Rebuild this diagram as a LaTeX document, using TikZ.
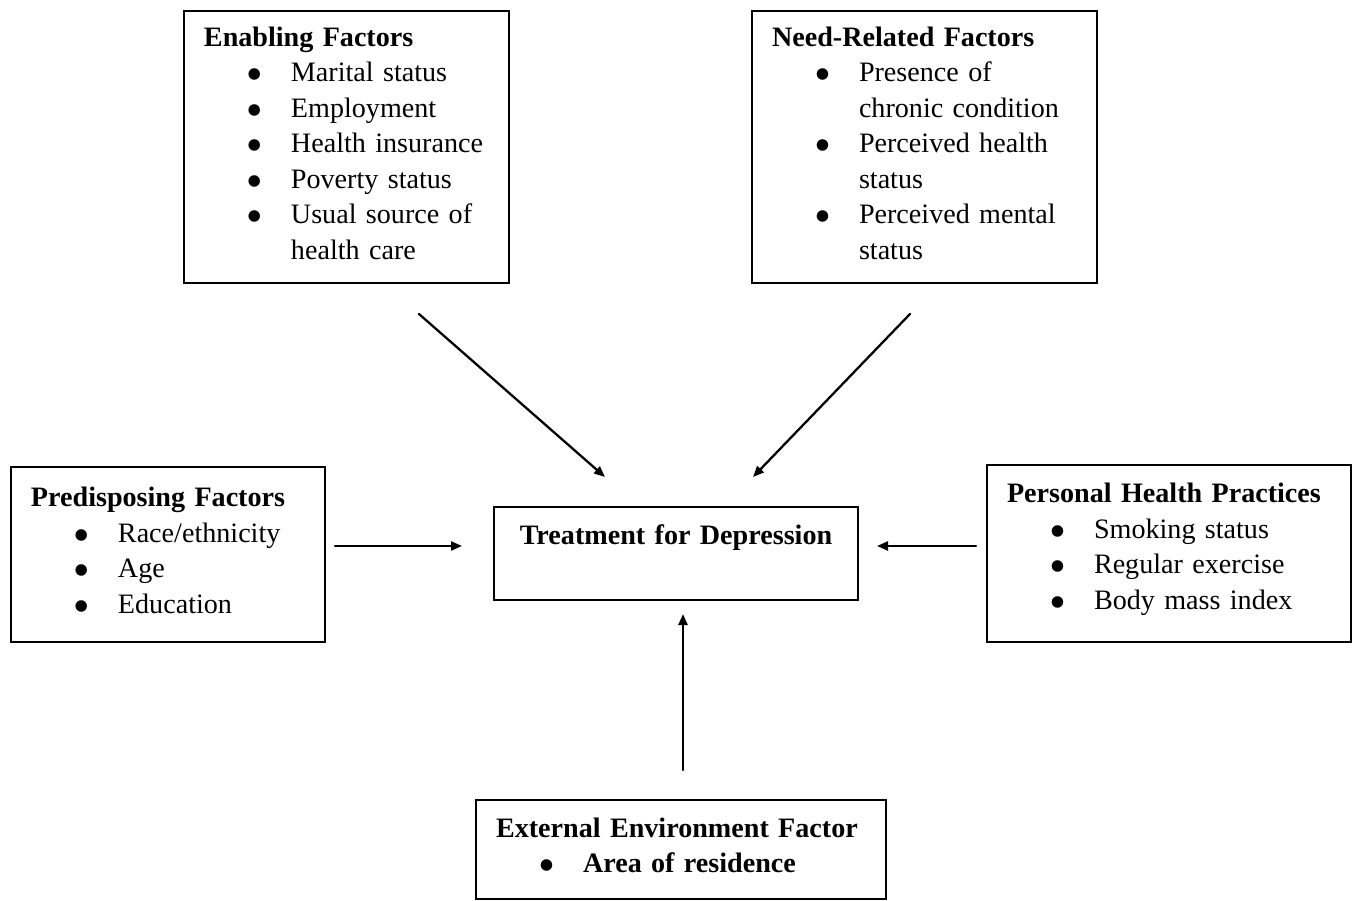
\documentclass[tikz,border=0pt]{standalone}
\usepackage{fontspec}
\setmainfont{Liberation Serif}
\usetikzlibrary{arrows.meta}
\newcommand{\ftitle}[1]{\mbox{\textbf{#1}}}
\newcommand{\bitem}[1]{\mbox{\makebox[0.87cm][l]{\hspace{0.43cm}$\bullet$}#1}}
\newcommand{\bcont}[1]{\mbox{\hspace*{0.87cm}#1}}
\newcommand{\boxend}{\par\vspace{0.08cm}}

\begin{document}
\begin{tikzpicture}[line cap=round,
  factor/.style={draw, line width=0.6pt, inner xsep=0.2cm, inner ysep=0pt,
    align=left, font=\fontsize{8}{10.1}\selectfont,
    execute at end node=\boxend},
  link/.style={-{Triangle[length=1.1mm, width=0.9mm]}, line width=0.65pt}]
  \useasboundingbox (0,0) rectangle (13.56,-9.01);

  % boxes
  \node[factor, text width=2.85cm, minimum height=2.72cm] (enabling) at (3.465,-1.47)
    {\ftitle{Enabling Factors}\\
     \bitem{Marital status}\\
     \bitem{Employment}\\
     \bitem{Health insurance}\\
     \bitem{Poverty status}\\
     \bitem{Usual source of}\\
     \bcont{health care}};
  \node[factor, text width=3.05cm, minimum height=2.72cm] (need) at (9.245,-1.47)
    {\ftitle{Need-Related Factors}\\
     \bitem{Presence of}\\
     \bcont{chronic condition}\\
     \bitem{Perceived health}\\
     \bcont{status}\\
     \bitem{Perceived mental}\\
     \bcont{status}};
  \node[factor, text width=2.74cm, minimum height=1.75cm] (predisposing) at (1.68,-5.545)
    {\ftitle{Predisposing Factors}\\
     \bitem{Race/ethnicity}\\
     \bitem{Age}\\
     \bitem{Education}};
  \node[factor, text width=3.24cm, align=center, text height=0.37cm, text depth=0.56cm,
    anchor=north] (treatment) at (6.76,-5.06)
    {\ftitle{Treatment for Depression}};
  \node[factor, text width=3.24cm, minimum height=1.77cm] (personal) at (11.69,-5.535)
    {\ftitle{Personal Health Practices}\\
     \bitem{Smoking status}\\
     \bitem{Regular exercise}\\
     \bitem{Body mass index}};
  \node[factor, text width=3.70cm, minimum height=0.99cm] (external) at (6.81,-8.495)
    {\ftitle{External Environment Factor}\\
     \bitem{\textbf{Area of residence}}};

  % arrow ends
  \coordinate (enA) at (4.19,-3.14);
  \coordinate (enB) at (6.05,-4.77);
  \coordinate (neA) at (9.10,-3.14);
  \coordinate (neB) at (7.53,-4.77);
  \coordinate (prA) at (3.35,-5.46);
  \coordinate (prB) at (4.62,-5.46);
  \coordinate (peA) at (9.76,-5.46);
  \coordinate (peB) at (8.77,-5.46);
  \coordinate (exA) at (6.83,-7.70);
  \coordinate (exB) at (6.83,-6.14);

  % arrows
  \draw[link] (enA) -- (enB);
  \draw[link] (neA) -- (neB);
  \draw[link] (prA) -- (prB);
  \draw[link] (peA) -- (peB);
  \draw[link] (exA) -- (exB);
\end{tikzpicture}
\end{document}
